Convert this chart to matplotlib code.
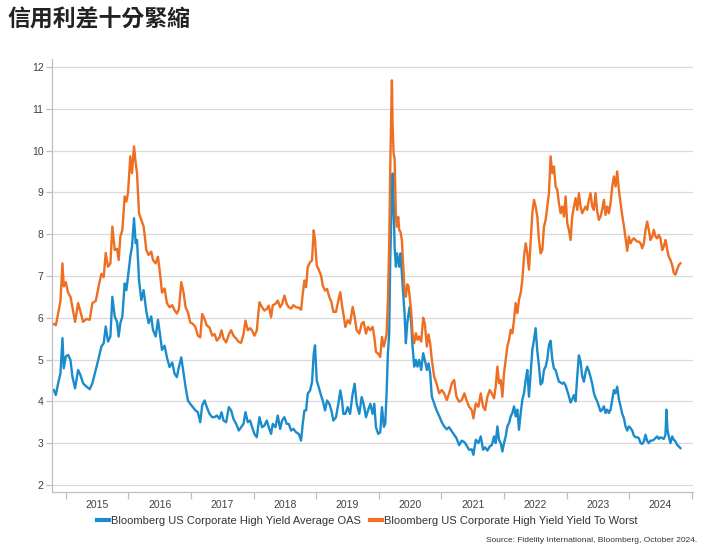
import matplotlib
matplotlib.use("Agg")
import matplotlib.pyplot as plt
from matplotlib.ticker import FixedLocator, NullFormatter, FixedFormatter

plt.rcParams['font.family'] = ['Liberation Sans', 'Noto Sans CJK TC', 'DejaVu Sans']

title = "信用利差十分緊縮"
series_names = ["Bloomberg US Corporate High Yield Average OAS",
                "Bloomberg US Corporate High Yield Yield To Worst"]
source = "Source: Fidelity International, Bloomberg, October 2024."
year_labels = ["2015", "2016", "2017", "2018", "2019", "2020", "2021", "2022", "2023", "2024"]
y_ticks = [2, 3, 4, 5, 6, 7, 8, 9, 10, 11, 12]

# time in decimal years
t = [
    2014.809, 2014.841, 2014.878, 2014.915, 2014.947, 2014.968, 2015.000, 2015.037, 2015.075, 2015.106,
    2015.149, 2015.197, 2015.234, 2015.277, 2015.330, 2015.383, 2015.425, 2015.479, 2015.532, 2015.569,
    2015.606, 2015.638, 2015.675, 2015.713, 2015.744, 2015.782, 2015.819, 2015.845, 2015.872, 2015.904,
    2015.941, 2015.968, 2015.994, 2016.031, 2016.058, 2016.090, 2016.117, 2016.138, 2016.170, 2016.207,
    2016.244, 2016.287, 2016.324, 2016.366, 2016.393, 2016.436, 2016.473, 2016.510, 2016.537,
    2016.579, 2016.616, 2016.658, 2016.701, 2016.738, 2016.775, 2016.807, 2016.845, 2016.882, 2016.914,
    2016.951, 2016.988, 2017.031, 2017.073, 2017.110, 2017.148, 2017.179, 2017.217, 2017.254, 2017.296,
    2017.339, 2017.376, 2017.413, 2017.456, 2017.488, 2017.520, 2017.562, 2017.605, 2017.642, 2017.679,
    2017.722, 2017.764, 2017.801, 2017.839, 2017.871, 2017.908, 2017.945, 2017.977, 2018.014, 2018.051,
    2018.094, 2018.136, 2018.173, 2018.211, 2018.243, 2018.280,
    2018.307, 2018.350, 2018.387, 2018.424, 2018.456, 2018.493, 2018.530, 2018.562, 2018.600, 2018.637,
    2018.679, 2018.722, 2018.759, 2018.786, 2018.812, 2018.839, 2018.865, 2018.903, 2018.934, 2018.961,
    2018.982, 2019.009, 2019.041, 2019.078, 2019.105, 2019.142, 2019.174, 2019.211, 2019.243, 2019.275,
    2019.317, 2019.354, 2019.386, 2019.413, 2019.434, 2019.466, 2019.503, 2019.541, 2019.583, 2019.615,
    2019.647, 2019.689, 2019.727, 2019.758, 2019.796, 2019.828, 2019.865, 2019.902, 2019.929, 2019.955,
    2019.992, 2020.024, 2020.051,
    2020.082, 2020.104, 2020.125, 2020.146, 2020.167, 2020.183, 2020.199, 2020.210, 2020.221, 2020.237,
    2020.253, 2020.274, 2020.290, 2020.311, 2020.327, 2020.348, 2020.369, 2020.391, 2020.412, 2020.433,
    2020.455, 2020.476, 2020.497, 2020.518, 2020.540, 2020.566, 2020.593, 2020.619, 2020.646, 2020.678,
    2020.710, 2020.736, 2020.768, 2020.795, 2020.821, 2020.848, 2020.885, 2020.922, 2020.965, 2021.007,
    2021.045, 2021.087, 2021.124, 2021.167, 2021.204, 2021.241, 2021.284, 2021.326, 2021.369, 2021.401,
    2021.443, 2021.486, 2021.512, 2021.550, 2021.592, 2021.629, 2021.667, 2021.699, 2021.736, 2021.773,
    2021.805,
    2021.842, 2021.868, 2021.895, 2021.921, 2021.948, 2021.975, 2022.001, 2022.028, 2022.054, 2022.081,
    2022.108, 2022.134, 2022.161, 2022.187, 2022.214, 2022.240, 2022.267, 2022.294, 2022.320, 2022.347,
    2022.373, 2022.400, 2022.427, 2022.453, 2022.480, 2022.506, 2022.533, 2022.559, 2022.586, 2022.613,
    2022.639, 2022.666, 2022.692, 2022.719, 2022.745, 2022.772, 2022.799, 2022.825, 2022.852, 2022.878,
    2022.905, 2022.932, 2022.958, 2022.985, 2023.011, 2023.038, 2023.064, 2023.091, 2023.118, 2023.144,
    2023.171, 2023.197, 2023.224, 2023.250, 2023.277, 2023.304, 2023.330, 2023.357, 2023.383, 2023.410,
    2023.436, 2023.463, 2023.490, 2023.516, 2023.543, 2023.569,
    2023.597, 2023.623, 2023.650, 2023.676, 2023.703, 2023.730, 2023.756, 2023.783, 2023.809, 2023.836,
    2023.863, 2023.889, 2023.916, 2023.942, 2023.969, 2023.995, 2024.022, 2024.049, 2024.075, 2024.102,
    2024.128, 2024.155, 2024.182, 2024.208, 2024.235, 2024.261, 2024.288, 2024.314, 2024.341, 2024.368,
    2024.394, 2024.421, 2024.447, 2024.474, 2024.500, 2024.527, 2024.554, 2024.580, 2024.596, 2024.612,
    2024.633, 2024.660, 2024.687, 2024.713, 2024.740, 2024.766, 2024.793, 2024.819,
]

oas = [
    4.27, 4.15, 4.43, 4.67, 5.51, 4.79, 5.07, 5.11, 4.99, 4.59,
    4.31, 4.75, 4.63, 4.43, 4.35, 4.29, 4.43, 4.75, 5.07, 5.31,
    5.39, 5.79, 5.43, 5.55, 6.50, 6.03, 5.90, 5.55, 5.87, 6.03,
    6.82, 6.66, 6.98, 7.46, 7.70, 8.38, 7.78, 7.86, 6.90, 6.42,
    6.66, 6.15, 5.87, 6.03, 5.71, 5.55, 5.95, 5.55, 5.23,
    5.33, 5.05, 4.82, 4.93, 4.66, 4.58, 4.82, 5.05, 4.66, 4.34,
    4.02, 3.94, 3.86, 3.78, 3.74, 3.50, 3.90, 4.02, 3.86, 3.70,
    3.62, 3.62, 3.66, 3.58, 3.74, 3.54, 3.50, 3.86, 3.78, 3.58,
    3.46, 3.30, 3.38, 3.46, 3.74, 3.50, 3.54, 3.38, 3.22, 3.14,
    3.62, 3.38, 3.42, 3.54, 3.38, 3.22,
    3.46, 3.38, 3.66, 3.34, 3.54, 3.62, 3.46, 3.46, 3.30, 3.34,
    3.26, 3.22, 3.06, 3.46, 3.78, 3.78, 4.18, 4.26, 4.46, 5.14,
    5.34, 4.50, 4.34, 4.14, 4.02, 3.78, 4.02, 3.94, 3.78, 3.54,
    3.62, 3.94, 4.26, 4.02, 3.70, 3.70, 3.86, 3.70, 4.18, 4.42,
    3.94, 3.70, 4.10, 3.94, 3.62, 3.78, 3.94, 3.70, 3.94, 3.38,
    3.22, 3.26, 3.86,
    3.39, 3.47, 4.19, 5.15, 5.63, 7.38, 8.30, 8.80, 9.45, 8.81,
    7.70, 7.22, 7.54, 7.38, 7.22, 7.54, 7.06, 6.58, 6.10, 5.39,
    5.86, 6.10, 6.26, 5.86, 5.31, 4.83, 4.99, 4.83, 4.99, 4.75,
    5.15, 4.99, 4.75, 4.91, 4.67, 4.11, 3.95, 3.79, 3.65, 3.50,
    3.40, 3.33, 3.38, 3.28, 3.20, 3.12, 2.95, 3.06, 3.02, 2.95,
    2.84, 2.85, 2.72, 3.08, 3.00, 3.16, 2.84, 2.90, 2.82, 2.92,
    2.95,
    3.16, 3.00, 3.40, 3.08, 3.00, 2.80, 3.00, 3.16, 3.40, 3.48,
    3.64, 3.72, 3.88, 3.64, 3.80, 3.32, 3.72, 4.04, 4.19, 4.51,
    4.75, 4.11, 4.67, 5.23, 5.47, 5.75, 5.20, 4.85, 4.40, 4.45,
    4.75, 4.83, 5.00, 5.35, 5.45, 5.00, 4.78, 4.75, 4.60, 4.47,
    4.45, 4.42, 4.45, 4.38, 4.25, 4.12, 3.97, 4.05, 4.15, 4.00,
    4.60, 5.10, 4.95, 4.60, 4.47, 4.70, 4.83, 4.72, 4.58, 4.42,
    4.20, 4.08, 4.00, 3.88, 3.76, 3.80,
    3.88, 3.72, 3.80, 3.72, 3.80, 4.04, 4.27, 4.19, 4.35, 4.05,
    3.88, 3.70, 3.60, 3.40, 3.30, 3.40, 3.36, 3.30, 3.18, 3.14,
    3.14, 3.12, 3.00, 2.98, 3.04, 3.20, 3.05, 3.00, 3.06, 3.06,
    3.08, 3.12, 3.16, 3.10, 3.14, 3.12, 3.10, 3.20, 3.80, 3.32,
    3.16, 3.00, 3.16, 3.08, 3.04, 2.96, 2.92, 2.88,
]

ytw = [
    5.85, 5.82, 6.10, 6.40, 7.30, 6.75, 6.85, 6.60, 6.50, 6.25,
    5.90, 6.35, 6.15, 5.90, 5.97, 5.95, 6.35, 6.40, 6.80, 7.05,
    6.97, 7.55, 7.22, 7.30, 8.18, 7.62, 7.65, 7.38, 7.94, 8.10,
    8.90, 8.78, 8.98, 9.86, 9.46, 10.10, 9.70, 9.46, 8.50, 8.34,
    8.18, 7.62, 7.50, 7.58, 7.38, 7.30, 7.46, 7.00, 6.60,
    6.70, 6.35, 6.25, 6.30, 6.18, 6.10, 6.20, 6.85, 6.60, 6.25,
    6.13, 5.89, 5.85, 5.77, 5.57, 5.53, 6.09, 5.97, 5.81, 5.77,
    5.57, 5.61, 5.45, 5.53, 5.70, 5.50, 5.41, 5.60, 5.70, 5.57,
    5.50, 5.42, 5.40, 5.60, 5.93, 5.70, 5.75, 5.69, 5.57, 5.69,
    6.37, 6.25, 6.17, 6.21, 6.29, 6.01,
    6.30, 6.33, 6.41, 6.25, 6.33, 6.53, 6.33, 6.25, 6.22, 6.30,
    6.25, 6.24, 6.19, 6.57, 6.89, 6.73, 7.21, 7.33, 7.37, 8.09,
    7.85, 7.25, 7.15, 7.01, 6.77, 6.65, 6.69, 6.49, 6.38, 6.14,
    6.14, 6.41, 6.61, 6.29, 6.10, 5.78, 5.94, 5.86, 6.26, 6.02,
    5.70, 5.62, 5.86, 5.90, 5.62, 5.78, 5.70, 5.78, 5.54, 5.18,
    5.14, 5.06, 5.54,
    5.31, 5.45, 5.60, 6.40, 7.80, 9.50, 10.90, 11.68, 10.60, 9.93,
    9.80, 8.41, 8.18, 8.41, 8.10, 8.05, 7.85, 7.25, 6.65, 6.50,
    6.80, 6.75, 6.45, 6.15, 5.63, 5.39, 5.63, 5.47, 5.55, 5.43,
    6.00, 5.86, 5.31, 5.60, 5.39, 4.99, 4.59, 4.43, 4.19, 4.27,
    4.19, 4.03, 4.19, 4.43, 4.51, 4.11, 3.99, 4.03, 4.19, 4.03,
    3.87, 3.79, 3.59, 3.95, 3.87, 4.19, 3.87, 3.79, 4.11, 4.27,
    4.19,
    4.07, 4.35, 4.83, 4.43, 4.51, 4.11, 4.67, 4.99, 5.31, 5.47,
    5.71, 5.63, 5.95, 6.35, 6.11, 6.43, 6.59, 6.91, 7.46, 7.78,
    7.54, 7.15, 7.86, 8.50, 8.82, 8.66, 8.42, 7.86, 7.54, 7.62,
    8.18, 8.34, 8.66, 8.98, 9.86, 9.46, 9.62, 9.14, 9.06, 8.74,
    8.50, 8.66, 8.42, 8.90, 8.26, 8.10, 7.86, 8.42, 8.66, 8.86,
    8.58, 8.98, 8.66, 8.50, 8.58, 8.66, 8.58, 8.82, 8.98, 8.66,
    8.58, 8.98, 8.54, 8.34, 8.42, 8.58,
    8.82, 8.46, 8.66, 8.50, 8.74, 9.14, 9.38, 9.14, 9.50, 9.05,
    8.75, 8.45, 8.20, 7.90, 7.60, 7.94, 7.78, 7.86, 7.90, 7.86,
    7.82, 7.82, 7.78, 7.66, 7.78, 8.10, 8.30, 8.10, 7.86, 7.94,
    8.10, 7.94, 7.90, 7.98, 7.90, 7.62, 7.70, 7.86, 7.75, 7.60,
    7.46, 7.38, 7.26, 7.07, 7.03, 7.15, 7.26, 7.30,
]

blue = '#1a8ccb'
orange = '#ee6e22'

fig = plt.figure(figsize=(7.23, 5.52), dpi=100)
ax = fig.add_axes([52 / 723, 1 - 492 / 552, (693 - 52) / 723, (492 - 59) / 552])

ax.plot(t, oas, color=blue, lw=1.7, label=series_names[0], solid_joinstyle='round')
ax.plot(t, ytw, color=orange, lw=1.7, label=series_names[1], solid_joinstyle='round')

ax.set_xlim(2014.78, 2025.02)
ax.set_ylim(1.83, 12.19)

ax.set_yticks(y_ticks)
ax.set_yticklabels([str(v) for v in y_ticks])
ax.grid(axis='y', color='#d9d9d9', lw=0.9)
ax.set_axisbelow(True)

years = [int(y) for y in year_labels]
ax.xaxis.set_major_locator(FixedLocator(years + [years[-1] + 1]))
ax.xaxis.set_major_formatter(NullFormatter())
ax.xaxis.set_minor_locator(FixedLocator([y + 0.5 for y in years]))
ax.xaxis.set_minor_formatter(FixedFormatter(year_labels))
ax.tick_params(axis='x', which='major', length=5, color='#bfbfbf', width=0.9)
ax.tick_params(axis='x', which='minor', length=0, pad=6, labelsize=7.5, labelcolor='#404040')
ax.tick_params(axis='y', length=4, color='#bfbfbf', width=0.9, pad=2, labelsize=7.5, labelcolor='#404040')

for s in ['top', 'right']:
    ax.spines[s].set_visible(False)
for s in ['left', 'bottom']:
    ax.spines[s].set_color('#bfbfbf')
    ax.spines[s].set_linewidth(0.9)

fig.text(7 / 723, 1 - 20 / 552, title, fontsize=16.5, fontweight='bold', color='#222222',
         family=['Noto Sans CJK TC', 'DejaVu Sans'], va='center', ha='left')

leg = fig.legend(loc='center', bbox_to_anchor=(367 / 723, 1 - 521 / 552), ncol=2, frameon=False,
                 fontsize=8, handlelength=1.1, handletextpad=0.15, columnspacing=0.8)
for h in leg.get_lines():
    h.set_linewidth(3)
for txt in leg.get_texts():
    txt.set_color('#333333')

fig.text(697 / 723, 1 - 541 / 552, source, fontsize=6, color='#333333', ha='right', va='center')

fig.savefig('out.png', dpi=100)
